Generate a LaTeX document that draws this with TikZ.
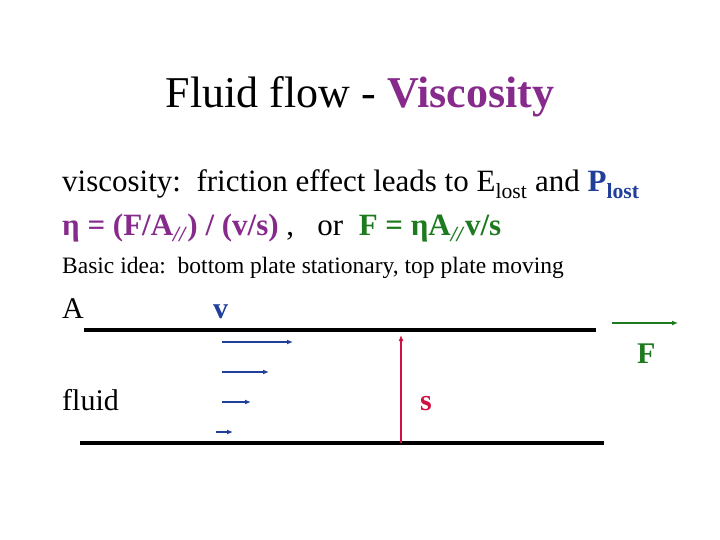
\documentclass[tikz,border=0pt]{standalone}
\usepackage{fontspec}
\usetikzlibrary{arrows.meta}
\setmainfont{Liberation Serif}
\definecolor{vpurple}{HTML}{862A8C}
\definecolor{vblue}{HTML}{1F3F9A}
\definecolor{vgreen}{HTML}{1E7A1E}
\definecolor{vred}{HTML}{D01040}
\begin{document}
\begin{tikzpicture}[x=1pt,y=-1pt,
  txt/.style={anchor=base west,inner sep=0pt},
  plate/.style={line width=3.5pt},
  flow/.style={vblue,line width=1.4pt,-{Latex[length=6pt,width=5pt]}}]
\useasboundingbox (0,0) rectangle (720,540);
\node (title) at (360,97) {\fontsize{44}{48}\selectfont Fluid flow - \textbf{\textcolor{vpurple}{Viscosity}}};
\node[txt] (l1) at (62,192) {\fontsize{31}{34}\selectfont viscosity:\ \ friction effect leads to E\textsubscript{lost} and \textcolor{vblue}{\textbf{P\textsubscript{lost}}}};
\node[txt] (l2) at (62,236) {\fontsize{31}{34}\selectfont\textbf{\textcolor{vpurple}{η = (F/A\textsubscript{\textit{//}}) / (v/s)}}\ ,\ \ \ or\ \ \textbf{\textcolor{vgreen}{F = ηA\textsubscript{\textit{//}}v/s}}};
\node[txt] (l3) at (62,273) {\fontsize{23.5}{26}\selectfont Basic idea:\ \ bottom plate stationary, top plate moving};
\node[txt] (A) at (62,318) {\fontsize{30}{32}\selectfont A};
\node[txt] (v) at (213,318) {\fontsize{30}{32}\selectfont\bfseries\textcolor{vblue}{v}};
\node[txt] (fl) at (62,410) {\fontsize{30}{32}\selectfont fluid};
\node[txt] (s) at (420,410) {\fontsize{30}{32}\selectfont\bfseries\textcolor{vred}{s}};
\node[txt] (F) at (637,363) {\fontsize{30}{32}\selectfont\bfseries\textcolor{vgreen}{F}};
\coordinate (t1) at (84,330); \coordinate (t2) at (596,330);
\coordinate (b1) at (80,443); \coordinate (b2) at (604,443);
\draw[plate] (t1) -- (t2);
\draw[plate] (b1) -- (b2);
\coordinate (a1) at (222,342); \coordinate (a1e) at (293,342);
\coordinate (a2) at (222,372); \coordinate (a2e) at (269,372);
\coordinate (a3) at (222,402); \coordinate (a3e) at (251,402);
\coordinate (a4) at (216,432); \coordinate (a4e) at (233,432);
\draw[flow] (a1) -- (a1e);
\draw[flow] (a2) -- (a2e);
\draw[flow] (a3) -- (a3e);
\draw[flow] (a4) -- (a4e);
\coordinate (sb) at (401,443); \coordinate (st) at (401,335);
\draw[vred,line width=1.4pt,-{Latex[length=6pt,width=5pt]}] (sb) -- (st);
\coordinate (f1) at (612,323); \coordinate (f2) at (678,323);
\draw[vgreen,line width=1.4pt,-{Latex[length=6pt,width=5pt]}] (f1) -- (f2);
\end{tikzpicture}
\end{document}
